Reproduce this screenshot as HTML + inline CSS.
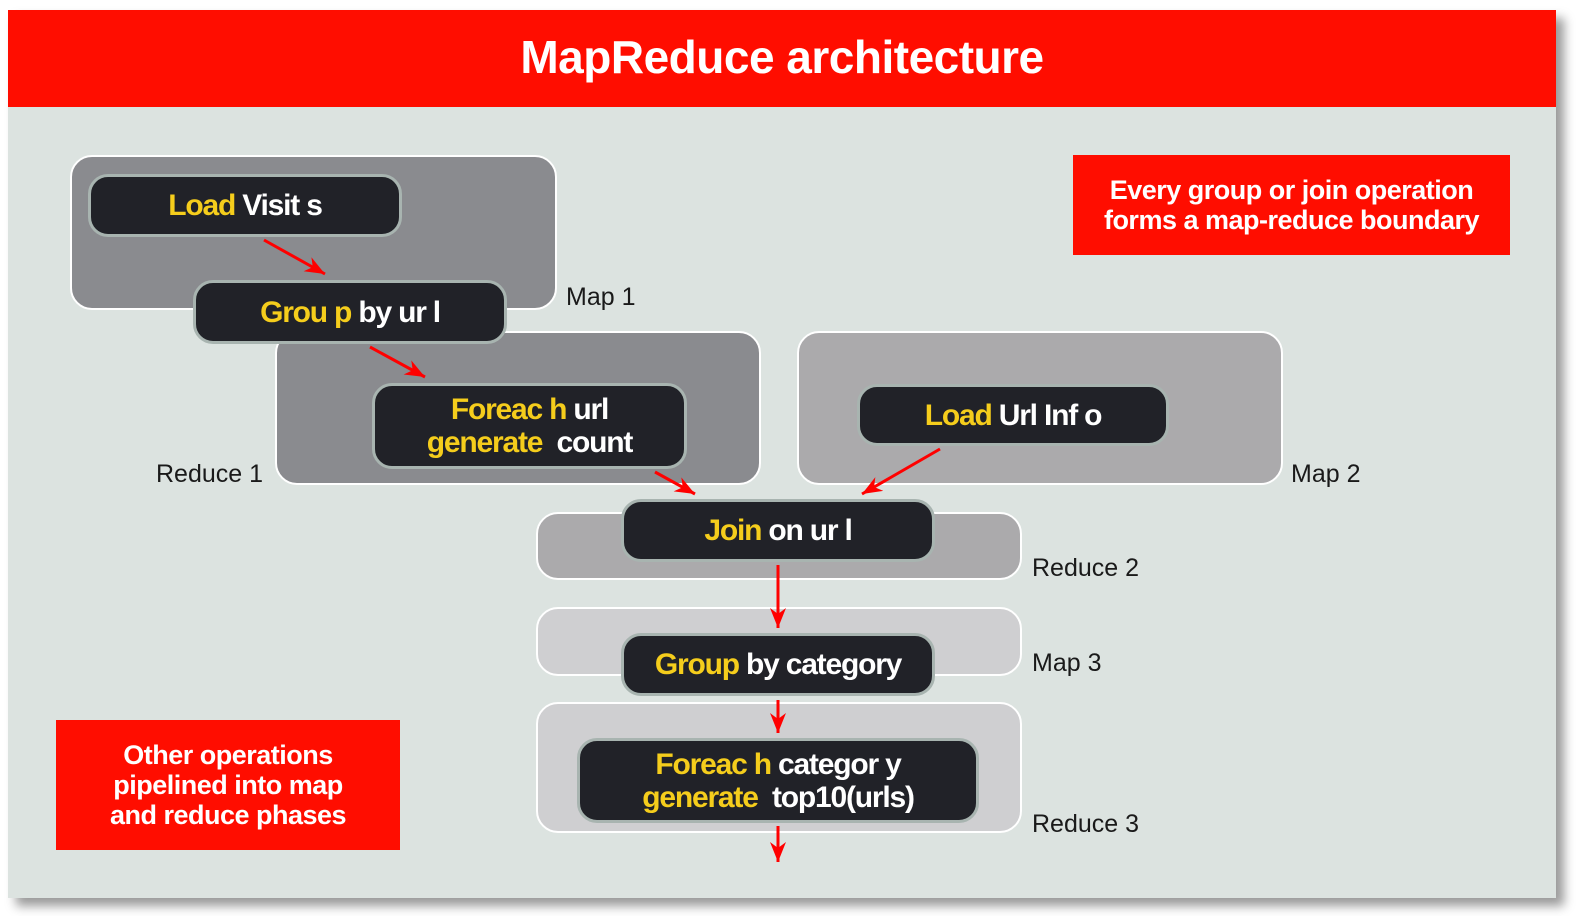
<!DOCTYPE html>
<html><head><meta charset="utf-8"><style>
body{margin:0;width:1582px;height:916px;background:#fff;position:relative;overflow:hidden;font-family:"Liberation Sans",sans-serif}
.a{position:absolute;box-sizing:border-box}
.slide{left:8px;top:10px;width:1548px;height:888px;background:#dce3e0;box-shadow:8px 8px 10px rgba(0,0,0,.4)}
.hdr{left:8px;top:10px;width:1548px;height:97px;background:#ff0d00;color:#fff;font-weight:bold;font-size:46px;text-align:center;line-height:94px;letter-spacing:-0.5px}
.g{border:2px solid #fff;border-radius:22px}
.g1{background:#8a8b8f}.g2{background:#abaaac}.g3{background:#cfcfd1}
.n{background:#212228;border:3px solid #a8b4b0;border-radius:20px;color:#fff;font-size:30px;font-weight:bold;text-align:center;display:flex;flex-direction:column;justify-content:center;line-height:33px;letter-spacing:-1.2px}
.y{color:#f5cd1c}
.l{font-size:25px;color:#1a1a1a}
.note{background:#ff0d00;color:#fff;font-weight:bold;font-size:27px;text-align:center;display:flex;flex-direction:column;justify-content:center;line-height:30px;letter-spacing:-0.5px}
</style></head><body>
<div class="a slide"></div>
<div class="a hdr">MapReduce architecture</div>

<div class="a g g1" style="left:70px;top:155px;width:487px;height:155px"></div>
<div class="a g g1" style="left:275px;top:331px;width:486px;height:154px"></div>
<div class="a g g2" style="left:797px;top:331px;width:486px;height:154px"></div>
<div class="a g g2" style="left:536px;top:512px;width:486px;height:68px"></div>
<div class="a g g3" style="left:536px;top:607px;width:486px;height:69px"></div>
<div class="a g g3" style="left:536px;top:702px;width:486px;height:131px"></div>

<div class="a n" style="left:88px;top:174px;width:314px;height:63px"><div><span class="y">Load</span> Visit s</div></div>
<div class="a n" style="left:193px;top:280px;width:314px;height:64px"><div><span class="y">Grou p</span> by ur l</div></div>
<div class="a n" style="left:372px;top:383px;width:315px;height:86px"><div><span class="y">Foreac h</span> url</div><div><span class="y">generate</span>&nbsp; count</div></div>
<div class="a n" style="left:857px;top:384px;width:312px;height:62px"><div><span class="y">Load</span> Url Inf o</div></div>
<div class="a n" style="left:621px;top:499px;width:314px;height:63px"><div><span class="y">Join</span> on ur l</div></div>
<div class="a n" style="left:621px;top:633px;width:314px;height:63px"><div><span class="y">Group</span> by category</div></div>
<div class="a n" style="left:577px;top:738px;width:402px;height:85px"><div><span class="y">Foreac h</span> categor y</div><div><span class="y">generate</span>&nbsp; top10(urls)</div></div>

<div class="a l" style="left:566px;top:283px">Map 1</div>
<div class="a l" style="left:156px;top:460px">Reduce 1</div>
<div class="a l" style="left:1291px;top:460px">Map 2</div>
<div class="a l" style="left:1032px;top:554px">Reduce 2</div>
<div class="a l" style="left:1032px;top:649px">Map 3</div>
<div class="a l" style="left:1032px;top:810px">Reduce 3</div>

<div class="a note" style="left:1073px;top:155px;width:437px;height:100px"><div>Every group or join operation</div><div>forms a map-reduce boundary</div></div>
<div class="a note" style="left:56px;top:720px;width:344px;height:130px"><div>Other operations</div><div>pipelined into map</div><div>and reduce phases</div></div>

<svg class="a" style="left:0;top:0" width="1582" height="916">
<defs><marker id="m" markerWidth="24" markerHeight="20" refX="20" refY="10" orient="auto" markerUnits="userSpaceOnUse"><path d="M0,2 L20,10 L0,18 L6,10z" fill="#f00"/></marker></defs>
<g stroke="#f00" stroke-width="3" fill="none">
<line x1="264" y1="240" x2="325" y2="274" marker-end="url(#m)"/>
<line x1="370" y1="347" x2="425" y2="377" marker-end="url(#m)"/>
<line x1="655" y1="472" x2="695" y2="494" marker-end="url(#m)"/>
<line x1="940" y1="449" x2="862" y2="494" marker-end="url(#m)"/>
<line x1="778" y1="565" x2="778" y2="628" marker-end="url(#m)"/>
<line x1="778" y1="700" x2="778" y2="733" marker-end="url(#m)"/>
<line x1="778" y1="826" x2="778" y2="862" marker-end="url(#m)"/>
</g></svg>
</body></html>
